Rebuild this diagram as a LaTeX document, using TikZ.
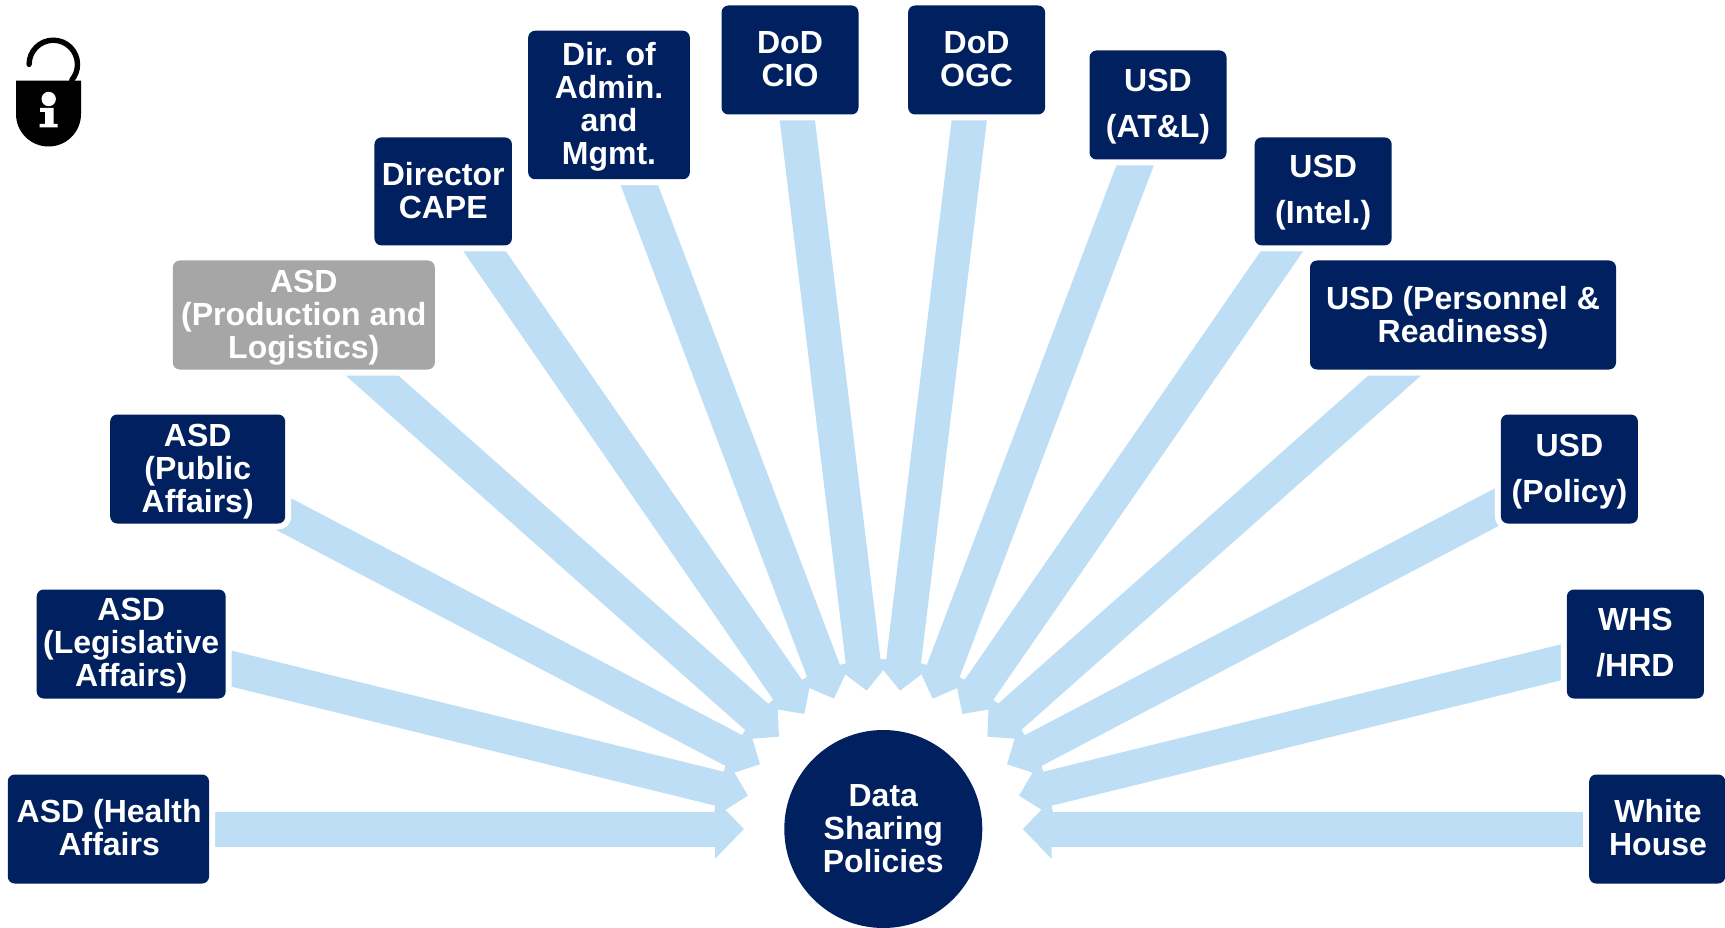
\documentclass[tikz,border=0pt]{standalone}
\usepackage{fontspec}
\setmainfont{Liberation Sans}
\usetikzlibrary{arrows.meta}
\definecolor{navy}{HTML}{002060}
\definecolor{flowblue}{HTML}{BDDEF5}
\definecolor{mutedgray}{HTML}{A6A6A6}
\tikzset{
  flow/.style={draw=flowblue,line width=35pt,line cap=butt,-{Triangle[length=29pt,width=58pt]}},
  orgbox/.style={rectangle,rounded corners=7pt,fill=navy,inner sep=0pt,
    preaction={draw=white,line width=12pt}},
  mutedbox/.style={orgbox,fill=mutedgray},
  boxtext/.style={text=white,inner sep=0pt,align=center,
    font=\bfseries\fontsize{32pt}{33pt}\selectfont},
  widetext/.style={boxtext,font=\bfseries\fontsize{32pt}{46pt}\selectfont},
  hub/.style={circle,fill=navy,text=white,inner sep=0pt,align=center,minimum size=198pt,
    font=\bfseries\fontsize{32pt}{33pt}\selectfont},
}
\begin{document}
\begin{tikzpicture}[x=1pt,y=-1pt]
\useasboundingbox (0,0) rectangle (1725,928);
% arrow heads
\coordinate (t1) at (744,829);
\coordinate (t2) at (748,795.7);
\coordinate (t3) at (760,764.3);
\coordinate (t4) at (779,736.7);
\coordinate (t5) at (804.3,714);
\coordinate (t6) at (834,698.7);
\coordinate (t7) at (866.7,690.7);
\coordinate (t8) at (900,690.7);
\coordinate (t9) at (932.7,698.7);
\coordinate (t10) at (962.3,714);
\coordinate (t11) at (987.3,736.7);
\coordinate (t12) at (1007,764.3);
\coordinate (t13) at (1019,795.7);
\coordinate (t14) at (1022.7,829);
% box centres
\coordinate (c1) at (108.4,829);
\coordinate (c2) at (131.2,644);
\coordinate (c3) at (197.7,469);
\coordinate (c4) at (303.8,315);
\coordinate (c5) at (443.2,191.4);
\coordinate (c6) at (609,105);
\coordinate (c7) at (790,60);
\coordinate (c8) at (976.6,60);
\coordinate (c9) at (1158,105);
\coordinate (c10) at (1323.2,191.4);
\coordinate (c11) at (1463,315);
\coordinate (c12) at (1569.4,469);
\coordinate (c13) at (1635.4,644);
\coordinate (c14) at (1657.2,829);
\foreach \i in {1,...,14} \draw[flow] (c\i) -- (t\i);
\node[orgbox,minimum width=201.3pt,minimum height=109pt,label={[name=health-t,boxtext,xshift=.8pt,yshift=1.2pt]center:{ASD (Health\\Affairs}}] (health) at (c1) {};
\node[orgbox,minimum width=189pt,minimum height=109pt,label={[name=legis-t,boxtext,yshift=-1.7pt]center:{ASD\\(Legislative\\Affairs)}}] (legis) at (c2) {};
\node[orgbox,minimum width=175pt,minimum height=109pt,label={[name=public-t,boxtext,yshift=-2.2pt]center:{ASD\\(Public\\Affairs)}}] (public) at (c3) {};
\node[mutedbox,minimum width=262pt,minimum height=109pt,label={[name=prod-t,boxtext,yshift=-2.8pt]center:{ASD\\(Production and\\Logistics)}}] (prod) at (c4) {};
\node[orgbox,minimum width=137.5pt,minimum height=108pt,label={[name=cape-t,boxtext,yshift=1pt]center:{Director\\CAPE}}] (cape) at (c5) {};
\node[orgbox,minimum width=161.7pt,minimum height=148.5pt,label={[name=dam-t,boxtext,yshift=-2.2pt]center:{Dir. of\\Admin.\\and\\Mgmt.}}] (dam) at (c6) {};
\node[orgbox,minimum width=137pt,minimum height=109pt,label={[name=cio-t,boxtext,yshift=1.1pt]center:{DoD\\CIO}}] (cio) at (c7) {};
\node[orgbox,minimum width=137pt,minimum height=109pt,label={[name=ogc-t,boxtext,yshift=1.1pt]center:{DoD\\OGC}}] (ogc) at (c8) {};
\node[orgbox,minimum width=137pt,minimum height=109pt,label={[name=atl-t,widetext,yshift=-1.6pt]center:{USD\\(AT\&L)}}] (atl) at (c9) {};
\node[orgbox,minimum width=137pt,minimum height=108pt,label={[name=intel-t,widetext,yshift=-1.1pt]center:{USD\\(Intel.)}}] (intel) at (c10) {};
\node[orgbox,minimum width=306pt,minimum height=109pt,label={[name=pers-t,boxtext,yshift=-2.3pt]center:{USD (Personnel \&\\Readiness)}}] (pers) at (c11) {};
\node[orgbox,minimum width=137pt,minimum height=109pt,label={[name=policy-t,widetext,yshift=-2.2pt]center:{USD\\(Policy)}}] (policy) at (c12) {};
\node[orgbox,minimum width=137pt,minimum height=109pt,label={[name=whs-t,widetext,yshift=1.1pt]center:{WHS\\/HRD}}] (whs) at (c13) {};
\node[orgbox,minimum width=136pt,minimum height=109pt,label={[name=wh-t,boxtext,xshift=.8pt,yshift=1.9pt]center:{White\\House}}] (wh) at (c14) {};
\node[hub] (data) at (883.3,829) {Data\\Sharing\\Policies};
% lock icon
\draw[black,line width=5.4pt,line cap=round] (29.1,64.4) arc[start angle=180,end angle=400,radius=24.2];
\fill[black] (16,80.7) -- (81,80.7) -- (81,114) arc[start angle=0,end angle=180,radius=32.5] -- cycle;
\fill[white] (48.7,99) circle (7.2);
\fill[white] (40,108) -- (53.5,108) -- (53.5,124) -- (57.7,124) -- (57.7,127.5) -- (39.5,127.5) -- (39.5,124) -- (45,124) -- (45,112) -- (40,112) -- cycle;
\end{tikzpicture}
\end{document}
